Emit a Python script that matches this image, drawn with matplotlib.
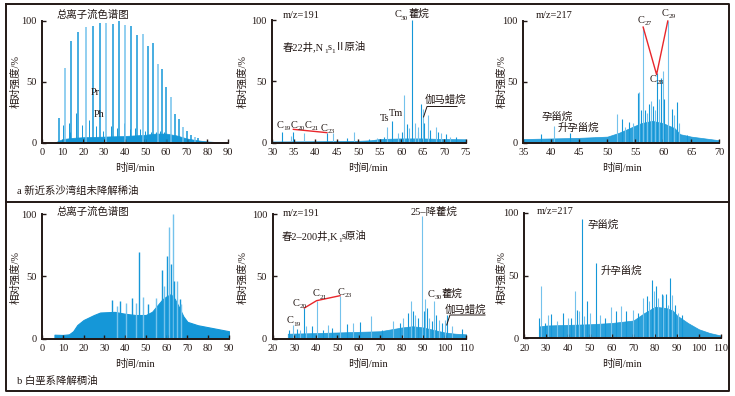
import matplotlib
matplotlib.use('Agg')
import matplotlib.pyplot as plt
from matplotlib.lines import Line2D
from matplotlib.transforms import IdentityTransform

plt.rcParams['font.family'] = ['Liberation Serif', 'Noto Sans CJK SC', 'DejaVu Sans']
plt.rcParams['mathtext.fontset'] = 'custom'
plt.rcParams['mathtext.rm'] = 'Liberation Serif'
plt.rcParams['mathtext.it'] = 'Liberation Serif:italic'
plt.rcParams['font.size'] = 7.5

# ---------------- data ----------------
# a1: TIC, undegraded oil
a1_base_t = [6, 8, 10, 15, 20, 30, 40, 50, 55, 60, 65, 70, 75, 80, 85, 90]
a1_base_v = [0, 1.5, 3, 4, 4.5, 5, 5.5, 6.5, 7.5, 7.5, 6, 3.5, 2, 1, 0.5, 0.3]
a1_alk_t = [8.1, 10.9, 14.0, 17.5, 21.1, 24.6, 28.0, 31.2, 34.3, 37.4, 40.4, 43.1, 45.9, 48.8,
            51.4, 53.6, 56.0, 58.1, 60.2, 62.3, 64.2, 66.3, 68.3, 70.0, 72.1, 74.1, 75.7]
a1_alk_h = [20.5, 61, 83, 91, 94.5, 95.6, 98.4, 98.4, 97.3, 100, 96.2, 95.4, 88.5, 89.3,
            79.5, 81.4, 64.2, 60.7, 45.4, 37.2, 23.2, 19.1, 13.1, 9.6, 6.3, 4.9, 3.6]
a1_min_t = [10.3, 12.9, 13.5, 16.3, 19.5, 22.5, 26.1, 29.5, 33.2, 36.2, 39.5, 42.7, 45.0,
            47.5, 50.0, 52.5, 55.0, 57.0, 59.0]
a1_min_h = [14.5, 16, 9, 24, 14.5, 18.6, 13.7, 10, 13.7, 11.7, 16.4, 11, 12.3,
            11, 10, 9, 9, 10, 9]

# a2: m/z 191, undegraded oil
a2_base_t = [30, 40, 50, 53, 55, 60, 65, 70, 75]
a2_base_v = [1, 1.2, 1.5, 2, 3, 3.5, 3.5, 3, 2.8]
a2_peak_t = [32.2, 34.3, 34.9, 37.4, 42.7, 44.2, 47.3, 49.0, 52.5, 54.3, 56.1, 56.8, 57.8,
             59.3, 60.1, 60.7, 61.3, 61.7, 62.6, 63.2, 63.8, 64.0, 64.6, 65.0, 65.4, 66.2,
             66.7, 68.1, 68.6, 69.3, 70.3, 71.4, 72.7]
a2_peak_h = [9, 5.4, 9, 7.6, 7.6, 8.2, 3.8, 8.4, 3.3, 3.5, 4.3, 13, 18,
             7.6, 9, 38.9, 15, 11.7, 100, 15.8, 9, 13, 31.3, 27.2, 15.8, 22.6,
             10.3, 13, 9, 7.6, 7, 4.9, 4.9]

# a3: m/z 217, undegraded oil
a3_base_t = [35, 40, 45, 50, 52, 54, 56, 58, 60, 62, 63, 65, 70]
a3_base_v = [3, 3.5, 4, 5, 8, 12, 16, 18, 16, 12, 7, 5, 2]
a3_peak_t = [38.2, 40.4, 43.3, 51.8, 52.7, 53.2, 53.9, 54.6, 55.4, 55.7, 56.0, 56.4, 56.7,
             57.0, 57.4, 57.8, 58.2, 58.5, 58.8, 59.2, 59.6, 59.9, 60.2, 60.8, 61.5, 61.9,
             62.4, 62.8, 64.2]
a3_peak_h = [7.2, 13.9, 7.8, 23.9, 19.7, 13.3, 16.7, 16.1, 41.1, 41.7, 27, 95.3, 27,
             24.4, 31.4, 34.2, 30, 27, 57.2, 35.5, 52.8, 59.2, 35.5, 100, 27.8, 23,
             33.3, 16, 6.4]

# b1: TIC, biodegraded heavy oil
b1_base_t = [6, 10, 13, 15, 17, 20, 25, 28, 35, 40, 45, 50, 53, 56, 58, 60, 62, 64, 66,
             68, 70, 75, 80, 85, 90]
b1_base_v = [3.2, 3, 3.5, 6, 11, 15, 19, 21, 21.5, 20, 19, 19, 21.6, 27.6, 31.6, 34, 35.7,
             31.6, 25, 18, 13.5, 10.8, 9.2, 7.6, 6]
b1_peak_t = [33.6, 36.0, 37.6, 40.4, 43.2, 45.3, 46.6, 48.4, 51.2, 54.8, 57.8, 58.9, 60.1,
             61.2, 62.0, 62.9, 63.7, 65.0, 66.5, 66.9]
b1_peak_h = [31.4, 26, 30, 28.6, 32.4, 29, 69.5, 33.5, 27.6, 33, 55, 42.4, 66.2,
             89.7, 60, 100, 46.5, 46, 31.6, 28]

# b2: m/z 191, biodegraded heavy oil
b2_base_t = [27, 40, 60, 70, 75, 80, 85, 90, 95, 100, 105, 110]
b2_base_v = [4, 4.5, 5.5, 6, 7.5, 9, 10, 9, 7, 5, 4, 3.5]
b2_peak_t = [27.7, 29.6, 31.2, 32.7, 34.7, 35.5, 38.1, 40.4, 43.2, 45.6, 47.7, 51.3, 54.4,
             57.5, 60.4, 65.7, 70.7, 76.1, 79.2, 80.7, 82.7, 84.1, 85.1, 86.1, 87.7, 89.2,
             90.3, 90.9, 91.7, 92.8, 93.9, 94.8, 95.9, 97.5, 98.5, 100.1, 101.2, 103.2, 107.8]
b2_peak_h = [7, 11.2, 7.8, 7.2, 24.6, 10, 10, 30, 7.2, 11.2, 8.6, 34.5, 11.8,
             12.6, 13.4, 18, 7.2, 14, 12.6, 16.6, 20.6, 30, 22, 19.3, 16.6, 98,
             22, 31.8, 24.6, 16.6, 14, 30.5, 19.3, 15.2, 12.6, 15.2, 18.7, 10, 8]

# b3: m/z 217, biodegraded heavy oil
b3_base_t = [27, 30, 40, 50, 60, 70, 75, 80, 85, 88, 90, 95, 100, 105, 110]
b3_base_v = [9.3, 10, 10.5, 11, 12, 14, 20, 25, 24, 22, 18, 12, 7, 4, 2]
b3_peak_t = [26.9, 27.6, 29.5, 31.0, 32.2, 34.8, 37.6, 39.9, 41.4, 43.2, 44.0, 45.2, 46.4,
             47.5, 48.9, 50.1, 52.9, 54.7, 57.0, 59.6, 61.9, 64.2, 66.6, 70.0, 72.3, 74.6,
             76.1, 77.3, 78.4, 79.4, 80.4, 81.4, 82.9, 83.7, 84.8, 85.7, 86.8, 87.8, 89.1,
             90.6, 92.1]
b3_peak_h = [16, 41.3, 12, 18.7, 19.2, 13.3, 20, 16, 16, 37.3, 22.7, 21.3, 95.5,
             17.3, 29.3, 20, 60, 18.7, 16, 24.5, 21.3, 26, 21.3, 22.7, 20, 32,
             33.3, 29.3, 46.7, 37.3, 41.3, 32, 35.2, 34.7, 35.2, 26.7, 48, 34.7, 26.7,
             20, 18.7]

x_ticks_a1 = [0, 10, 20, 30, 40, 50, 60, 70, 80, 90]
x_ticks_a2 = [30, 35, 40, 45, 50, 55, 60, 65, 70, 75]
x_ticks_a3 = [35, 40, 45, 50, 55, 60, 65, 70]
x_ticks_b = [20, 30, 40, 50, 60, 70, 80, 90, 100, 110]
y_ticks = [0, 50, 100]

# ---------------- style ----------------
W, H = 735, 396
BLUE = '#1597d8'
LIGHT = '#74c2ec'
INK = '#231815'
RED = '#e8262b'

fig = plt.figure(figsize=(W / 100, H / 100), dpi=100)
renderer = fig.canvas.get_renderer()


def fx(x):
    return x / W


def fy(y):
    return 1 - y / H


def px_axes(l, r, top, bot):
    return fig.add_axes([l / W, 1 - bot / H, (r - l) / W, (bot - top) / H])


def style(ax, xlim, xticks):
    ax.set_xlim(xlim)
    ax.set_ylim(0, 100)
    ax.set_xticks(xticks)
    ax.set_yticks(y_ticks)
    for s in ['top', 'right']:
        ax.spines[s].set_visible(False)
    for s in ['left', 'bottom']:
        ax.spines[s].set_linewidth(1.4)
        ax.spines[s].set_color(INK)
    ax.tick_params(direction='in', length=3, width=1, colors=INK, labelsize=7.5, pad=4)
    ax.patch.set_alpha(0)


def ftext(x, y, s, **kw):
    kw.setdefault('color', INK)
    kw.setdefault('fontsize', 7.5)
    fig.text(fx(x), fy(y), s, **kw)


def rich(xd, yd, pieces, ha='center', size=7.5, subsize=5.2, drop=2.2):
    """Draw a run of text pieces (text, is_subscript) at display pixel (xd, yd),
    vertically centred on yd."""
    objs = []
    total = 0
    for s, sub in pieces:
        t = fig.text(0, 0, s, fontsize=subsize if sub else size, color=INK,
                     transform=IdentityTransform(), va='baseline', ha='left')
        w = t.get_window_extent(renderer).width
        objs.append((t, w, sub))
        total += w
    x0 = xd - total / 2 if ha == 'center' else xd
    base = yd - size * 100 / 72 * 0.33
    for t, w, sub in objs:
        t.set_position((x0, base - (drop if sub else 0)))
        x0 += w


def rich_px(x, y, pieces, ha='center'):
    rich(x, H - y, pieces, ha=ha)


def rich_data(ax, t, v, pieces, ha='center'):
    xd, yd = ax.transData.transform((t, v))
    rich(xd, yd, pieces, ha=ha)


def draw(ax, bt, bv, pt, ph, lw=0.8):
    ax.fill_between(bt, 0, bv, color=BLUE, lw=0.5, alpha=0.9)
    for i, (t, h) in enumerate(zip(pt, ph)):
        ax.vlines(t, 0, h, color=(BLUE if i % 2 == 0 else LIGHT), lw=lw)


# a1
ax = px_axes(42, 228, 20.7, 142.7)
style(ax, (0, 90), x_ticks_a1)
ax.fill_between(a1_base_t, 0, a1_base_v, color=BLUE, lw=0.5)
ax.vlines(a1_min_t, 0, a1_min_h, color=BLUE, lw=0.7)
for i, (t, h) in enumerate(zip(a1_alk_t, a1_alk_h)):
    ax.vlines(t, 0, h, color=(BLUE if i % 3 != 1 else LIGHT), lw=1.1)
ax.text(25.9, 41, 'Pr', ha='center', va='center', color=INK)
ax.text(27.5, 23, 'Ph', ha='center', va='center', color=INK)

# a2
ax = px_axes(272.3, 465.7, 20, 142.7)
style(ax, (30, 75), x_ticks_a2)
draw(ax, a2_base_t, a2_base_v, a2_peak_t, a2_peak_h)
ax.plot([34.9, 42.7], [10.9, 8.2], color=RED, lw=1, clip_on=False)
rich_data(ax, 31.0, 15, [('C', 0), ('19', 1), ('C', 0), ('20', 1), ('C', 0), ('21', 1)], ha='left')
rich_data(ax, 42.9, 12.5, [('C', 0), ('23', 1)])
ax.text(56.1, 20, 'Ts', ha='center', va='center', color=INK)
ax.text(58.7, 24, 'Tm', ha='center', va='center', color=INK)
rich_data(ax, 62.4, 105, [('C', 0), ('30', 1), ('藿烷', 0)])
ax.plot([65.2, 66.0, 73.0], [21, 29.5, 29.5], color=INK, lw=0.7, clip_on=False)
ax.text(70.2, 35, '伽马蜡烷', ha='center', va='center', color=INK)

# a3
ax = px_axes(523.3, 719.3, 21, 142.7)
style(ax, (35, 70), x_ticks_a3)
draw(ax, a3_base_t, a3_base_v, a3_peak_t, a3_peak_h)
ax.plot([56.4, 58.8, 60.8], [95, 56, 100], color=RED, lw=1, clip_on=False)
rich_data(ax, 56.7, 101, [('C', 0), ('27', 1)])
rich_data(ax, 58.8, 53, [('C', 0), ('28', 1)])
rich_data(ax, 60.9, 107, [('C', 0), ('29', 1)])
ax.text(41, 21.7, '孕甾烷', ha='center', va='center', color=INK)
ax.text(44.8, 12.5, '升孕甾烷', ha='center', va='center', color=INK)

# b1
ax = px_axes(42, 229, 214, 338.7)
style(ax, (0, 90), x_ticks_a1)
ax.fill_between(b1_base_t, 0, b1_base_v, color=BLUE, lw=0.8)
for i, (t, h) in enumerate(zip(b1_peak_t, b1_peak_h)):
    ax.vlines(t, 0, h, color=(BLUE if i % 2 == 0 else LIGHT), lw=1.0)

# b2
ax = px_axes(272.7, 466.3, 214, 338.7)
style(ax, (20, 110), x_ticks_b)
draw(ax, b2_base_t, b2_base_v, b2_peak_t, b2_peak_h)
ax.plot([34.7, 40.4, 51.3], [24.6, 30.5, 34.5], color=RED, lw=1, clip_on=False)
rich_data(ax, 29.6, 15, [('C', 0), ('19', 1)])
rich_data(ax, 32.7, 29, [('C', 0), ('20', 1)])
rich_data(ax, 42.0, 36.6, [('C', 0), ('21', 1)])
rich_data(ax, 53.3, 38, [('C', 0), ('23', 1)])
ax.text(95.1, 102, '25–降藿烷', ha='center', va='center', color=INK, clip_on=False)
rich_data(ax, 100, 36, [('C', 0), ('30', 1), ('藿烷', 0)])
ax.plot([100.9, 102.4, 118.7], [11, 19, 19], color=INK, lw=0.7, clip_on=False)
ax.text(109.4, 23, '伽马蜡烷', ha='center', va='center', color=INK, clip_on=False)

# b3
ax = px_axes(524.3, 720.7, 213, 338)
style(ax, (20, 110), x_ticks_b)
draw(ax, b3_base_t, b3_base_v, b3_peak_t, b3_peak_h)
ax.text(56.2, 90.7, '孕甾烷', ha='center', va='center', color=INK)
ax.text(64.6, 53.9, '升孕甾烷', ha='center', va='center', color=INK)

# figure-level texts
for x in [135, 368, 621.7]:
    ftext(x, 168, '时间/min', ha='center', va='center')
    ftext(x, 363.7, '时间/min', ha='center', va='center')
for x, yc in [(15, 82), (242, 82), (501, 82), (15, 277), (242, 277), (501, 277)]:
    ftext(x, yc, '相对强度/%', ha='center', va='center', rotation=90)
ftext(93, 15, '总离子流色谱图', ha='center', va='center')
ftext(93, 212, '总离子流色谱图', ha='center', va='center')
ftext(283, 15, 'm/z=191', ha='left', va='center')
ftext(283, 213, 'm/z=191', ha='left', va='center')
ftext(536, 15, 'm/z=217', ha='left', va='center')
ftext(537, 212, 'm/z=217', ha='left', va='center')
rich_px(283, 47, [('春22井,N', 0), ('1', 1), ('s', 0), ('1', 1), ('Ⅱ原油', 0)], ha='left')
rich_px(282, 236, [('春2–200井,K', 0), ('1', 1), ('s原油', 0)], ha='left')
ftext(17, 190.7, 'a 新近系沙湾组未降解稀油', ha='left', va='center')
ftext(17, 380.7, 'b 白垩系降解稠油', ha='left', va='center')

# frame
for xs, ys in [([6, 729, 729, 6, 6], [4, 4, 391, 391, 4]), ([6, 729], [202, 202])]:
    fig.add_artist(Line2D([fx(v) for v in xs], [fy(v) for v in ys],
                          transform=fig.transFigure, color=INK, lw=1.4))

fig.savefig('out.png', dpi=100)
